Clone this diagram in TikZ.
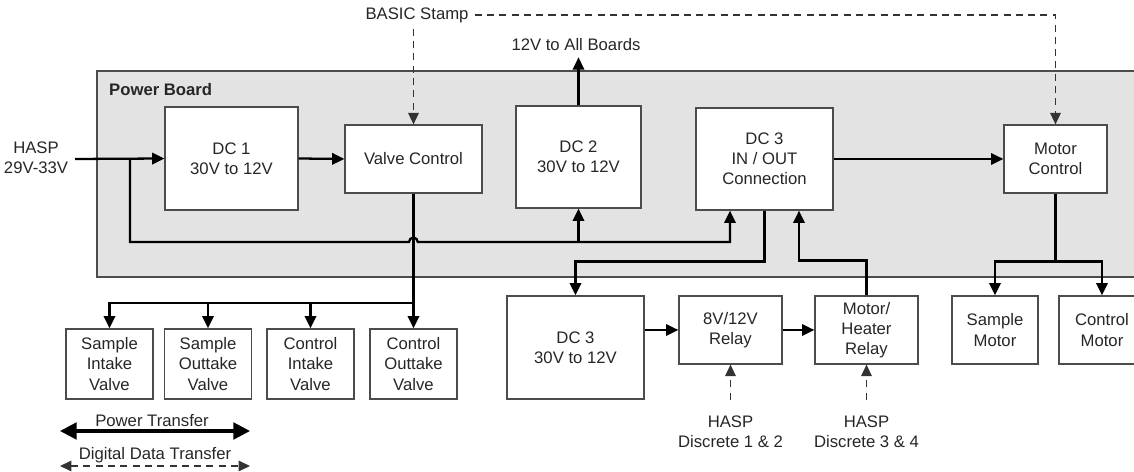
\documentclass[tikz,border=0pt]{standalone}
\usepackage{fontspec}
\setmainfont{Liberation Sans}
\usetikzlibrary{arrows.meta}

\tikzset{
  blk/.style={draw=black!70, line width=0.7pt, fill=white, align=center, inner sep=2pt},
  pwr/.style={line width=1.3pt, -{Triangle[length=7pt,width=6.5pt]}},
  dataln/.style={draw=black!80, line width=0.7pt, dash pattern=on 4pt off 3pt, -{Triangle[length=6.5pt,width=6pt]}},
  big/.style={{Triangle[length=9.5pt,width=9.5pt]}-{Triangle[length=9.5pt,width=9.5pt]}},
  small/.style={{Triangle[length=6.5pt,width=6pt]}-{Triangle[length=6.5pt,width=6pt]}},
}

\begin{document}
\begin{tikzpicture}[x=0.02cm, y=-0.02cm, font=\fontsize{9.5}{11.5}\selectfont, text=black!85]
  \useasboundingbox (0,0) rectangle (1134,472);
  \clip (0,0) rectangle (1134,472);
  \filldraw[fill=black!11, draw=black!70, line width=1pt] (97,71) rectangle (1160,277);
  \node[anchor=west, font=\fontsize{9.5}{11.5}\selectfont\bfseries] (pb) at (103,90) {Power Board};

  \node[blk, minimum width=2.66cm, minimum height=2.06cm] (dc1) at (231.5,158.5) {DC 1\\30V to 12V};
  \node[blk, minimum width=2.74cm, minimum height=1.36cm] (valve) at (413.5,159) {Valve Control};
  \node[blk, minimum width=2.5cm, minimum height=2.04cm] (dc2) at (578.5,157) {DC 2\\30V to 12V};
  \node[blk, minimum width=2.74cm, minimum height=2.04cm] (dcio) at (764.5,159) {DC 3\\IN / OUT\\Connection};
  \node[blk, minimum width=2.06cm, minimum height=1.36cm] (mc) at (1055.5,159) {Motor\\Control};

  \node[blk, minimum width=1.74cm, minimum height=1.4cm] (siv) at (109.5,364) {Sample\\Intake\\Valve};
  \node[blk, minimum width=1.74cm, minimum height=1.4cm] (sov) at (208,364) {Sample\\Outtake\\Valve};
  \node[blk, minimum width=1.74cm, minimum height=1.4cm] (civ) at (310.5,364) {Control\\Intake\\Valve};
  \node[blk, minimum width=1.74cm, minimum height=1.4cm] (cov) at (413.5,364) {Control\\Outtake\\Valve};

  \node[blk, minimum width=2.74cm, minimum height=2.06cm] (dc3) at (575.5,347.5) {DC 3\\30V to 12V};
  \node[blk, minimum width=2.06cm, minimum height=1.36cm] (rel) at (730.5,330) {8V/12V\\Relay};
  \node[blk, minimum width=2.06cm, minimum height=1.36cm] (mhr) at (866.5,330) {Motor/\\Heater\\Relay};
  \node[blk, minimum width=1.72cm, minimum height=1.36cm] (sm) at (995,330) {Sample\\Motor};
  \node[blk, minimum width=1.72cm, minimum height=1.36cm] (cmot) at (1102,330) {Control\\Motor};

  \node[align=center] (hasp) at (36,158) {HASP\\29V-33V};
  \node (bs) at (417,15) {BASIC Stamp};
  \node (allb) at (576,45) {12V to All Boards};
  \node[align=center] (d12) at (730.5,432) {HASP\\Discrete 1 \& 2};
  \node[align=center] (d34) at (866.5,432) {HASP\\Discrete 3 \& 4};

  \coordinate (hin) at (75,159);
  \coordinate (bus) at (130,159);
  \coordinate (busend) at (730,242);
  \coordinate (j2) at (dc2.south |- busend);
  \coordinate (vj) at (413.5,303);

  \draw[pwr] (hin) -- (dc1.west);
  \draw[pwr] (dc1.east) -- (valve.west);
  \draw[pwr] (dcio.east) -- (mc.west);
  \draw[pwr] (dc2.north) -- (dc2.north |- allb.south);
  \draw[pwr] (bus) -- (130,242) -- (409,242) arc[start angle=180, end angle=0, radius=2.5pt] -- (busend) -- (busend |- dcio.south);
  \draw[pwr] (j2) -- (dc2.south);
  \draw[pwr] (valve.south) -- (cov.north);
  \foreach \v in {siv,sov,civ}
    \draw[pwr] (vj) -| (\v.north);
  \draw[pwr] (dcio.south) -- ++(0,51) -| (dc3.north);
  \draw[pwr] (mhr.north) -- ++(0,-35) -| ([xshift=0.69cm]dcio.south);
  \draw[pwr] (mc.south) -- ++(0,68) coordinate (mj) -| (sm.north);
  \draw[pwr] (mj) -| (cmot.north);
  \draw[pwr] (dc3.east |- rel.west) -- (rel.west);
  \draw[pwr] (rel.east) -- (mhr.west);

  \draw[dataln] (bs.south -| valve.north) -- (valve.north);
  \draw[dataln] (bs.east) -| (mc.north);
  \draw[dataln] ([yshift=0.2cm]d12.north) -- (rel.south);
  \draw[dataln] ([yshift=0.2cm]d34.north) -- (mhr.south);

  \node (lpt) at (152,421) {Power Transfer};
  \coordinate (lpa) at (60,431);
  \coordinate (lpb) at (250,431);
  \draw[line width=1.8pt, big] (lpa) -- (lpb);
  \node (ldt) at (155,455) {Digital Data Transfer};
  \coordinate (lda) at (60,466);
  \coordinate (ldb) at (250,466);
  \draw[dataln, small] (lda) -- (ldb);
\end{tikzpicture}
\end{document}
